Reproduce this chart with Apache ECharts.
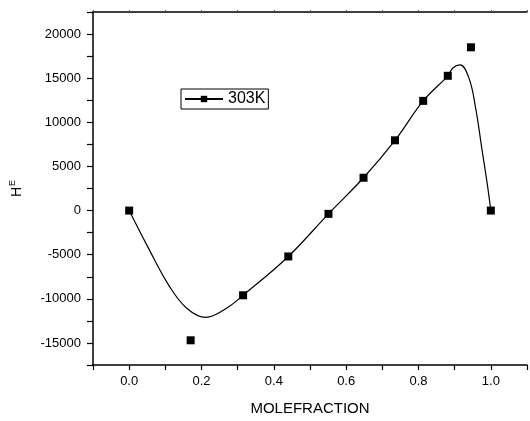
<!DOCTYPE html>
<html>
<head>
<meta charset="utf-8">
<script src="https://cdn.jsdelivr.net/npm/echarts@6/dist/echarts.min.js"></script>
<style>
html, body { margin: 0; padding: 0; background: #fff; }
#chart { width: 530px; height: 421px; }
</style>
</head>
<body>
<div id="chart"></div>
<script>
// measured points (303K)
var pointX = [0, 0.17, 0.315, 0.44, 0.551, 0.648, 0.735, 0.813, 0.881, 0.945, 1.0];
var pointY = [0, -14700, -9600, -5200, -370, 3720, 7960, 12430, 15270, 18500, 0];

// fitted curve
var curveX = [0, 0.05, 0.11, 0.16, 0.212, 0.268, 0.315, 0.44, 0.551, 0.648, 0.735, 0.813, 0.881, 0.895, 0.915, 0.94, 0.958, 0.976, 0.99, 1.0];
var curveY = [0, -4000, -8500, -11100, -12100, -11100, -9600, -5200, -370, 3720, 7960, 12430, 15270, 16150, 16500, 14950, 11600, 6800, 3050, 0];

var xTicks = [0.0, 0.2, 0.4, 0.6, 0.8, 1.0];

function pairs(xs, ys) {
    var out = [];
    for (var i = 0; i < xs.length; i++) out.push([xs[i], ys[i]]);
    return out;
}

window.onload = function() {
    var chart = echarts.init(document.getElementById('chart'));
    var font = 'Liberation Sans, Arial, sans-serif';

    var option = {
        animation: false,
        backgroundColor: '#fff',
        grid: { left: 92, top: 12, width: 440, bottom: 50 },
        legend: {
            data: ['303K'],
            left: 181,
            top: 89,
            padding: [2, 3, 2, 3],
            itemWidth: 38,
            itemHeight: 8,
            itemGap: 4,
            borderColor: '#000',
            borderWidth: 1,
            borderRadius: 0,
            textStyle: { fontSize: 16, color: '#000', fontFamily: font }
        },
        xAxis: [{
            type: 'value',
            min: -0.1,
            max: 1.1,
            interval: 0.1,
            name: 'MOLEFRACTION',
            nameLocation: 'middle',
            nameGap: 36,
            nameTextStyle: { fontSize: 15, color: '#000', fontFamily: font },
            axisLine: { show: true, onZero: false, lineStyle: { color: '#000', width: 1.5 } },
            axisTick: { show: true, length: 5, lineStyle: { color: '#000', width: 1.2 } },
            splitLine: { show: false },
            axisLabel: {
                margin: 10,
                fontSize: 13,
                color: '#000',
                fontFamily: font,
                formatter: function(v) {
                    for (var i = 0; i < xTicks.length; i++) {
                        if (Math.abs(v - xTicks[i]) < 1e-6) return xTicks[i].toFixed(1);
                    }
                    return '';
                }
            }
        }, {
            type: 'value',
            position: 'top',
            min: -0.1,
            max: 1.1,
            interval: 0.1,
            axisLine: { show: true, onZero: false, lineStyle: { color: '#000', width: 1.5 } },
            axisTick: { show: true, length: 2, lineStyle: { color: '#555', width: 1 } },
            axisLabel: { show: false },
            splitLine: { show: false }
        }],
        yAxis: {
            type: 'value',
            min: -17500,
            max: 22500,
            interval: 2500,
            name: 'H{sup|E}',
            nameLocation: 'middle',
            nameGap: 66,
            nameRotate: 90,
            nameTextStyle: {
                fontSize: 14,
                color: '#000',
                fontFamily: font,
                rich: { sup: { fontSize: 9, verticalAlign: 'bottom', padding: [0, 0, 10, 1], color: '#000', fontFamily: font } }
            },
            axisLine: { show: true, onZero: false, lineStyle: { color: '#000', width: 1.5 } },
            axisTick: { show: true, length: 6, lineStyle: { color: '#000', width: 1.2 } },
            splitLine: { show: false },
            axisLabel: {
                margin: 12,
                fontSize: 13,
                color: '#000',
                fontFamily: font,
                formatter: function(v) {
                    return (v % 5000 === 0) ? String(v) : '';
                }
            }
        },
        series: [{
            name: '303K',
            type: 'line',
            data: pairs(curveX, curveY),
            smooth: 0.4,
            showSymbol: false,
            symbol: 'rect',
            symbolSize: 8,
            itemStyle: { color: '#000' },
            lineStyle: { color: '#000', width: 1.2 },
            z: 2
        }, {
            name: 'points',
            type: 'scatter',
            data: pairs(pointX, pointY),
            symbol: 'rect',
            symbolSize: 8,
            itemStyle: { color: '#000', opacity: 1 },
            z: 3
        }]
    };

    chart.setOption(option);
};
</script>
</body>
</html>
